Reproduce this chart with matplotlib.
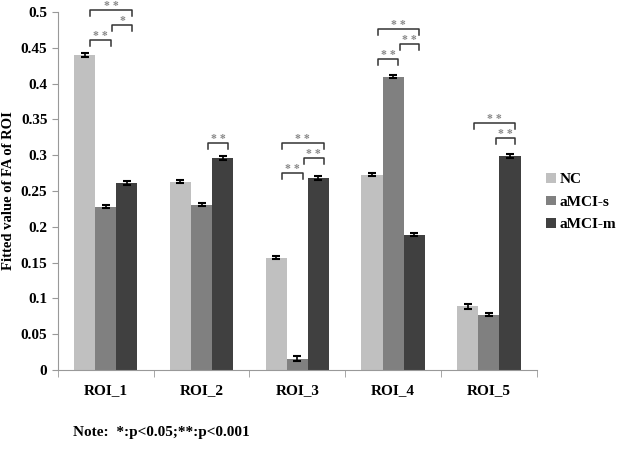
import numpy as np
import matplotlib.pyplot as plt

rois = ['ROI_1', 'ROI_2', 'ROI_3', 'ROI_4', 'ROI_5']
groups = ['NC', 'aMCI-s', 'aMCI-m']
nc = [0.440, 0.263, 0.157, 0.273, 0.089]
amci_s = [0.228, 0.231, 0.016, 0.410, 0.077]
amci_m = [0.261, 0.296, 0.268, 0.189, 0.299]
nc_err = [0.0025, 0.002, 0.0025, 0.002, 0.0035]
amci_s_err = [0.002, 0.002, 0.0035, 0.002, 0.002]
amci_m_err = [0.003, 0.003, 0.0025, 0.0025, 0.0025]
colors = ['#c0c0c0', '#808080', '#404040']

# significance brackets: (roi index, group i, group j, height, label)
sig = [
    (0, 0, 1, 0.461, '* *'), (0, 1, 2, 0.482, '*'), (0, 0, 2, 0.503, '* *'),
    (1, 1, 2, 0.317, '* *'),
    (2, 0, 1, 0.275, '* *'), (2, 1, 2, 0.296, '* *'), (2, 0, 2, 0.317, '* *'),
    (3, 0, 1, 0.434, '* *'), (3, 1, 2, 0.455, '* *'), (3, 0, 2, 0.476, '* *'),
    (4, 1, 2, 0.324, '* *'), (4, 0, 2, 0.345, '* *'),
]

plt.rcParams['font.family'] = ['Liberation Serif', 'DejaVu Serif']
plt.rcParams['font.weight'] = 'bold'

fig = plt.figure(figsize=(6.22, 4.49), dpi=100)
ax = fig.add_axes([0.093, 0.176, 0.77, 0.797])

x = np.arange(len(rois))
w = 0.22
series = [(nc, nc_err), (amci_s, amci_s_err), (amci_m, amci_m_err)]
for k, (vals, errs) in enumerate(series):
    ax.bar(x + (k - 1) * w, vals, w, color=colors[k], label=groups[k],
           yerr=errs, error_kw=dict(ecolor='black', elinewidth=1.2, capsize=3, capthick=1.5))

for r, i, j, h, lab in sig:
    x0 = r + (i - 1) * w + 0.06
    x1 = r + (j - 1) * w + 0.055
    if i == 1:
        x0 += 0.01
    ax.plot([x0, x0, x1, x1], [h - 0.008, h, h, h - 0.008], color='#333333', lw=1.1,
            clip_on=False)
    ax.text((x0 + x1) / 2, h + 0.006, lab, ha='center', va='center', fontsize=8.5,
            color='#888888', clip_on=False)

ax.set_xlim(-0.5, 4.5)
ax.set_ylim(0, 0.5)
ax.set_yticks(np.arange(0, 0.51, 0.05))
ax.set_yticklabels(['0', '0.05', '0.1', '0.15', '0.2', '0.25', '0.3', '0.35', '0.4', '0.45', '0.5'])
ax.set_xticks(x)
ax.set_xticklabels(rois)
ax.set_xticks(np.arange(-0.5, 5, 1), minor=True)
ax.tick_params(axis='x', which='major', length=0, pad=10, labelsize=11)
ax.tick_params(axis='x', which='minor', length=5, color='#999999')
ax.tick_params(axis='y', length=4, color='#999999', labelsize=11)
for lbl in ax.get_xticklabels() + ax.get_yticklabels():
    lbl.set_fontweight('bold')
ax.spines['top'].set_visible(False)
ax.spines['right'].set_visible(False)
ax.spines['left'].set_color('#999999')
ax.spines['bottom'].set_color('#999999')
ax.set_ylabel('Fitted value of FA of ROI', fontsize=10.5, fontweight='bold')

ax.legend(loc='upper left', bbox_to_anchor=(1.02, 0.55), frameon=False,
          borderaxespad=0, borderpad=0,
          handlelength=0.6, handleheight=0.6, handletextpad=0.25, labelspacing=0.6,
          prop={'weight': 'bold', 'size': 11})

fig.text(0.118, 0.028, 'Note:  *:p<0.05;**:p<0.001', fontsize=11, fontweight='bold')

fig.savefig('out.png', dpi=100)
